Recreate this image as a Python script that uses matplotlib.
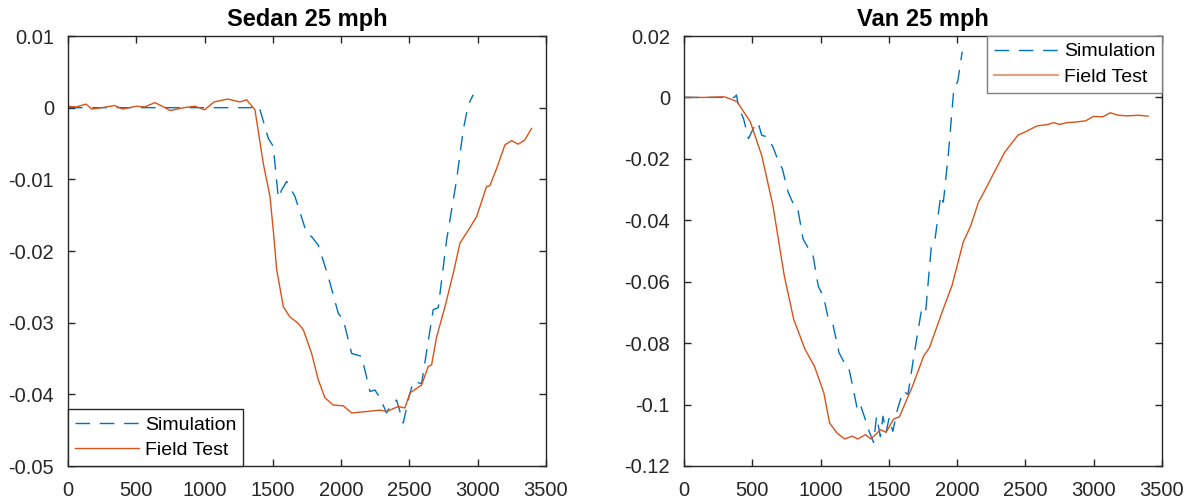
import matplotlib
matplotlib.use("Agg")
import matplotlib.pyplot as plt

plt.rcParams["font.family"] = ["Liberation Sans", "DejaVu Sans"]
plt.rcParams["axes.unicode_minus"] = False

BLUE = "#0072BD"
ORANGE = "#D95319"

# ---- Sedan 25 mph ----
sedan_sim_t = [0, 300, 600, 900, 1200, 1340, 1369, 1406, 1467, 1503, 1540, 1564, 1601,
               1662, 1747, 1784, 1833, 1906, 1979, 2016, 2077, 2150, 2211, 2248, 2284,
               2333, 2357, 2406, 2455, 2491, 2528, 2589, 2674, 2711, 2772, 2845, 2894,
               2931, 2967]
sedan_sim = [0, 0, 0, 0, 0, 0, 0.0004, -0.0003, -0.0043, -0.0054, -0.0126, -0.0115,
             -0.0103, -0.0124, -0.0175, -0.0180, -0.0192, -0.0236, -0.0287, -0.0296,
             -0.0343, -0.0347, -0.0396, -0.0394, -0.0405, -0.0426, -0.0417, -0.0408,
             -0.0440, -0.0408, -0.0382, -0.0385, -0.0282, -0.0279, -0.0185, -0.0101,
             -0.0031, 0.0004, 0.0018]

sedan_field_t = [0, 60, 132, 174, 250, 342, 398, 500, 560, 636, 700, 748, 850, 930,
                 1000, 1070, 1169, 1259, 1308, 1369, 1430, 1479, 1503, 1528, 1577, 1625,
                 1686, 1723, 1784, 1833, 1882, 1943, 2016, 2077, 2187, 2284, 2333, 2418,
                 2467, 2504, 2589, 2638, 2662, 2699, 2760, 2821, 2870, 2931, 2992, 3065,
                 3089, 3138, 3199, 3248, 3297, 3345, 3394]
sedan_field = [0.0002, 0.0001, 0.0005, -0.0002, 0.0000, 0.0003, -0.0002, 0.0002,
               0.0001, 0.0007, 0.0001, -0.0004, 0.0000, 0.0002, -0.0003, 0.0008, 0.0012,
               0.0008, 0.0011, -0.0003, -0.0078, -0.0124, -0.0171, -0.0226, -0.0278,
               -0.0292, -0.0301, -0.0310, -0.0343, -0.0380, -0.0405, -0.0415, -0.0416,
               -0.0426, -0.0424, -0.0422, -0.0424, -0.0417, -0.0419, -0.0398, -0.0387,
               -0.0361, -0.0359, -0.0320, -0.0278, -0.0231, -0.0189, -0.0171, -0.0152,
               -0.0110, -0.0109, -0.0085, -0.0052, -0.0046, -0.0051, -0.0045, -0.0029]

# ---- Van 25 mph ----
van_sim_t = [0, 200, 370, 384, 403, 436, 472, 508, 541, 569, 610, 651, 693, 720, 762,
             803, 831, 872, 914, 941, 983, 1024, 1052, 1093, 1135, 1176, 1204, 1245,
             1267, 1287, 1328, 1355, 1388, 1410, 1438, 1457, 1480, 1502, 1529, 1563,
             1604, 1640, 1687, 1742, 1770, 1811, 1838, 1880, 1899, 1935, 1976, 2004,
             2037]
van_sim = [0, 0, 0, 0.0008, -0.0036, -0.0069, -0.0134, -0.0101, -0.0080, -0.0123,
           -0.0129, -0.0161, -0.0210, -0.0232, -0.0308, -0.0349, -0.0357, -0.0461,
           -0.0494, -0.0505, -0.0614, -0.0652, -0.0712, -0.0744, -0.0831, -0.0866,
           -0.0875, -0.0962, -0.1011, -0.0995, -0.1049, -0.1087, -0.1123, -0.1038,
           -0.1104, -0.1038, -0.1090, -0.1043, -0.1087, -0.1016, -0.0956, -0.0967,
           -0.0831, -0.0684, -0.0695, -0.0484, -0.0462, -0.0319, -0.0341, -0.0188,
           0.0029, 0.0051, 0.0149]

van_field_t = [0, 150, 293, 340, 389, 486, 569, 651, 734, 803, 886, 955, 1024, 1066,
               1121, 1176, 1231, 1272, 1328, 1369, 1438, 1480, 1535, 1577, 1673, 1755,
               1797, 1893, 1962, 2045, 2100, 2156, 2197, 2266, 2349, 2445, 2500, 2583,
               2666, 2708, 2749, 2804, 2873, 2942, 2997, 3066, 3122, 3177, 3246, 3329,
               3398]
van_field = [0, 0, 0.0002, -0.0005, -0.0014, -0.0080, -0.0189, -0.0352, -0.0580,
             -0.0722, -0.0820, -0.0875, -0.0962, -0.1060, -0.1093, -0.1112, -0.1103,
             -0.1112, -0.1098, -0.1112, -0.1082, -0.1090, -0.1047, -0.1040, -0.0940,
             -0.0842, -0.0815, -0.0695, -0.0613, -0.0471, -0.0417, -0.0341, -0.0308,
             -0.0248, -0.0178, -0.0123, -0.0112, -0.0093, -0.0088, -0.0082, -0.0088,
             -0.0082, -0.0080, -0.0076, -0.0062, -0.0063, -0.0050, -0.0058, -0.0060,
             -0.0058, -0.0061]

x_ticks = [0, 500, 1000, 1500, 2000, 2500, 3000, 3500]
sedan_yticks = [0.01, 0, -0.01, -0.02, -0.03, -0.04, -0.05]
sedan_ylabels = ["0.01", "0", "-0.01", "-0.02", "-0.03", "-0.04", "-0.05"]
van_yticks = [0.02, 0, -0.02, -0.04, -0.06, -0.08, -0.10, -0.12]
van_ylabels = ["0.02", "0", "-0.02", "-0.04", "-0.06", "-0.08", "-0.1", "-0.12"]

fig = plt.figure(figsize=(11.9, 5.04), dpi=100)
ax1 = fig.add_axes([68 / 1190, 38 / 504, 478 / 1190, 430 / 504])
ax2 = fig.add_axes([684 / 1190, 38 / 504, 478 / 1190, 430 / 504])

DASH = (10.5, 7)


def style(ax, yt, yl, ylim, title):
    ax.set_xlim(0, 3500)
    ax.set_ylim(*ylim)
    ax.set_xticks(x_ticks)
    ax.set_xticklabels([str(v) for v in x_ticks])
    ax.set_yticks(yt)
    ax.set_yticklabels(yl)
    ax.tick_params(direction="in", length=5, width=1, colors="#262626",
                   labelcolor="#262626", labelsize=14.5, top=True, right=True)
    ax.tick_params(axis="x", pad=11)
    ax.tick_params(axis="y", pad=10)
    for s in ax.spines.values():
        s.set_color("#262626")
        s.set_linewidth(1.0)
    ax.set_title(title, fontsize=17, fontweight="bold", pad=7)


def add_legend(ax, loc, edge):
    leg = ax.legend(loc=loc, fontsize=14, handlelength=3.3, handletextpad=0.3,
                    borderpad=0.35, labelspacing=0.4, borderaxespad=0,
                    fancybox=False, framealpha=1, edgecolor=edge)
    leg.get_frame().set_linewidth(1.0)
    return leg


ax1.plot(sedan_sim_t, sedan_sim, color=BLUE, lw=1.0, dashes=DASH, label="Simulation")
ax1.plot(sedan_field_t, sedan_field, color=ORANGE, lw=1.0, label="Field Test")
style(ax1, sedan_yticks, sedan_ylabels, (-0.05, 0.01), "Sedan 25 mph")
add_legend(ax1, "lower left", "#262626")

ax2.plot(van_sim_t, van_sim, color=BLUE, lw=1.0, dashes=DASH, label="Simulation")
ax2.plot(van_field_t, van_field, color=ORANGE, lw=1.0, label="Field Test")
style(ax2, van_yticks, van_ylabels, (-0.12, 0.02), "Van 25 mph")
leg2 = add_legend(ax2, "upper right", "#7f7f7f")
leg2.get_lines()[1].set_color("#E8A07F")
leg2.get_lines()[1].set_linewidth(1.5)

fig.savefig("out.png", dpi=100)
